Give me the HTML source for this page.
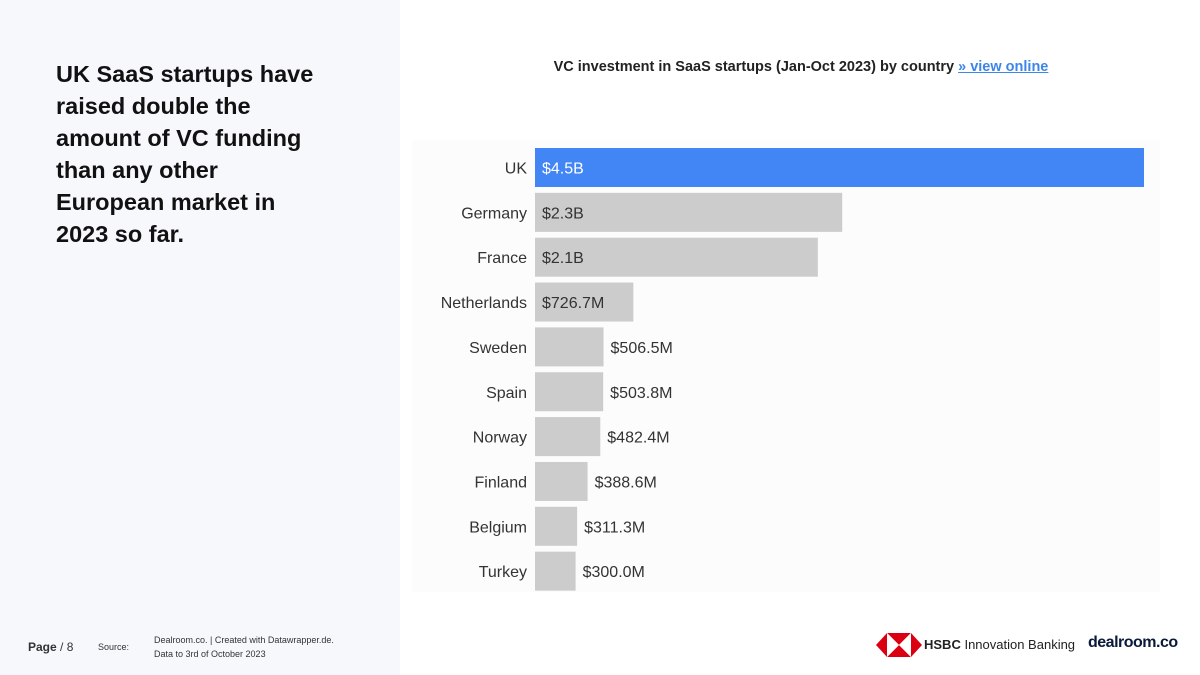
<!DOCTYPE html>
<html><head><meta charset="utf-8"><style>
body{margin:0;width:1200px;height:675px;position:relative;background:#fff;font-family:"Liberation Sans",sans-serif;overflow:hidden}
#left{position:absolute;left:0;top:0;width:400px;height:675px;background:#f7f8fc}
h1{position:absolute;left:56px;top:58px;margin:0;width:268px;font-size:23.5px;line-height:32px;font-weight:bold;color:#111}
#ctitle{position:absolute;left:456px;top:59px;width:690px;text-align:center;font-size:14.5px;font-weight:bold;color:#222}
#ctitle a{color:#3b86e8;text-decoration:underline}
#chartbg{position:absolute;left:412px;top:140px;width:748px;height:452px;background:#fcfcfc}
.foot{position:absolute;color:#333}
</style></head><body>
<div id="left"></div>
<h1>UK SaaS startups have raised double the amount of VC funding than any other European market in 2023 so far.</h1>
<div id="ctitle">VC investment in SaaS startups (Jan-Oct 2023) by country <a>» view online</a></div>
<div id="chartbg"></div>
<svg id="chart" width="1200" height="675" style="position:absolute;left:0;top:0"></svg>
<div class="foot" style="left:28px;top:640px;font-size:12px"><b>Page</b> / 8</div>
<div class="foot" style="left:98px;top:642px;font-size:9px">Source:</div>
<div class="foot" style="left:154px;top:633px;font-size:9px;line-height:14px">Dealroom.co. | Created with Datawrapper.de.<br>Data to 3rd of October 2023</div>
<svg style="position:absolute;left:876px;top:632px" width="46" height="26">
<polygon points="0,13 11,1 11,25" fill="#db0011"/><polygon points="46,13 35,1 35,25" fill="#db0011"/>
<polygon points="11,1 35,1 23,13" fill="#db0011"/><polygon points="11,25 35,25 23,13" fill="#db0011"/>
<polygon points="11,1 23,13 11,25" fill="#fff"/><polygon points="35,1 23,13 35,25" fill="#fff"/></svg>
<div class="foot" style="left:924px;top:637px;font-size:13px;color:#222"><b>HSBC</b> Innovation Banking</div>
<div class="foot" style="left:1088px;top:634px;font-size:16px;font-weight:bold;color:#0b1a3a;letter-spacing:-0.5px">dealroom.co</div>
<script>
const countries=["UK","Germany","France","Netherlands","Sweden","Spain","Norway","Finland","Belgium","Turkey"];
const values=[4.5,2.27,2.09,0.7267,0.5065,0.5038,0.4824,0.3886,0.3113,0.300];
const labels=["$4.5B","$2.3B","$2.1B","$726.7M","$506.5M","$503.8M","$482.4M","$388.6M","$311.3M","$300.0M"];
const svg=document.getElementById('chart');const NS="http://www.w3.org/2000/svg";
const x0=535,x1=1144,y0=148,step=44.85,bh=39;
const xs=v=>x0+(x1-x0)*v/4.5;
countries.forEach((c,i)=>{
 const y=y0+i*step,w=xs(values[i])-x0;
 const r=document.createElementNS(NS,'rect');
 r.setAttribute('x',x0);r.setAttribute('y',y);r.setAttribute('width',w);r.setAttribute('height',bh);
 r.setAttribute('fill',i==0?'#4285f4':'#cccccc');
 
 
 svg.appendChild(r);
 const t=document.createElementNS(NS,'text');
 t.setAttribute('x',527);t.setAttribute('y',y+bh/2+6);t.setAttribute('text-anchor','end');
 t.setAttribute('font-size','16');t.setAttribute('fill','#333');t.setAttribute('font-family','Liberation Sans, sans-serif');
 t.textContent=c;
 
 
 svg.appendChild(t);
 const inside=w>90;
 const v=document.createElementNS(NS,'text');
 v.setAttribute('x',inside?x0+7:x0+w+7);v.setAttribute('y',y+bh/2+6);
 v.setAttribute('font-size','16');v.setAttribute('font-family','Liberation Sans, sans-serif');
 v.setAttribute('fill',i==0?'#fff':'#333');
 v.textContent=labels[i];
 
 
 svg.appendChild(v);
});
</script>
</body></html>
